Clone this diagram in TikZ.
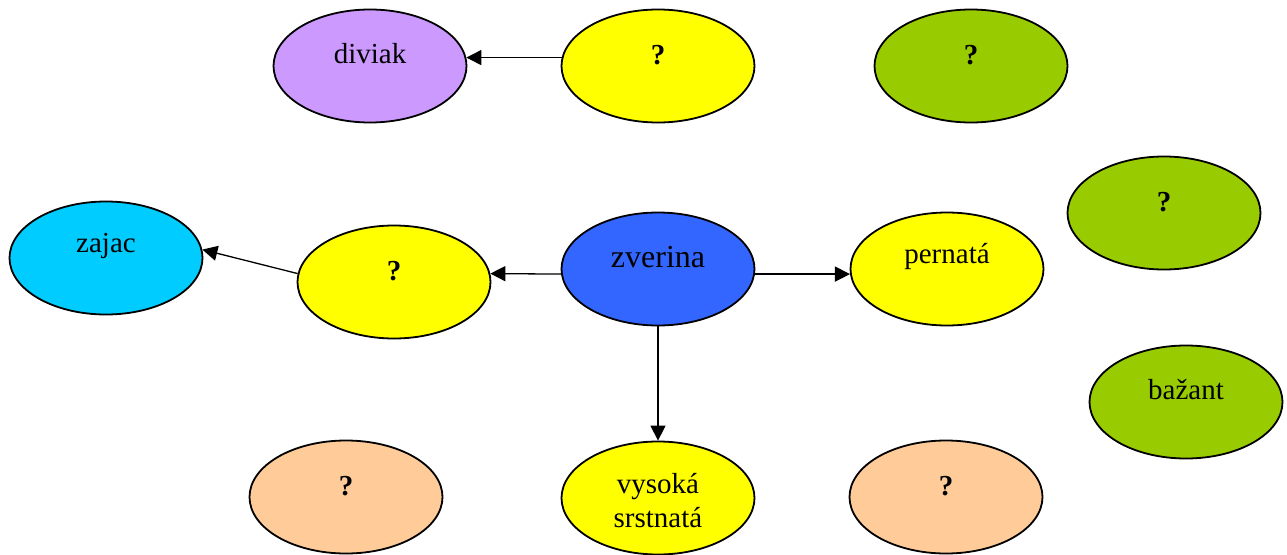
\documentclass[tikz,border=0pt]{standalone}
\usepackage{fontspec}
\setmainfont{Liberation Serif}
\usetikzlibrary{shapes.geometric,arrows.meta}
\definecolor{cviolet}{HTML}{CC99FF}
\definecolor{cyellow}{HTML}{FFFF00}
\definecolor{cgreen}{HTML}{99CC00}
\definecolor{ccyan}{HTML}{00CCFF}
\definecolor{cblue}{HTML}{3366FF}
\definecolor{corange}{HTML}{FFCC99}
\begin{document}
\begin{tikzpicture}[x=1pt,y=-1pt,
  bubble/.style={ellipse, draw=black, line width=1.8pt, minimum width=193pt, minimum height=113pt, inner sep=0pt},
  txt/.style={font=\fontsize{29}{34}\selectfont, align=center, inner sep=0pt},
  lab/.style={label={[txt,yshift=12pt]center:#1}},
  qlab/.style={label={[txt,font=\fontsize{29}{34}\selectfont\bfseries,yshift=11pt]center:?}},
  arr/.style={-{Triangle[length=15pt,width=15pt]}, line width=1.3pt}]
\useasboundingbox (0,0) rectangle (1287,554);
\node[bubble, fill=cviolet, lab=diviak] (diviak) at (370,66) {};
\node[bubble, fill=cyellow, qlab] (q1) at (658,66) {};
\node[bubble, fill=cgreen, qlab] (g1) at (971,66) {};
\node[bubble, fill=cgreen, qlab] (g2) at (1164,213) {};
\node[bubble, fill=ccyan, lab=zajac] (zajac) at (106,258) {};
\node[bubble, fill=cyellow, qlab] (q2) at (394,282) {};
\node[bubble, fill=cblue, label={[txt, font=\fontsize{32}{36}\selectfont, yshift=12pt]center:zverina}] (zverina) at (658,269) {};
\node[bubble, fill=cyellow, lab=pernatá] (pernata) at (947,269) {};
\node[bubble, fill=cgreen, lab=bažant] (bazant) at (1186,402) {};
\node[bubble, fill=corange, qlab] (o1) at (346,497) {};
\node[bubble, fill=cyellow, label={[txt, yshift=-3pt]center:{vysoká\\srstnatá}}] (vysoka) at (658,498) {};
\node[bubble, fill=corange, qlab] (o2) at (946,497) {};
\draw[arr] (q1.175) -- (diviak.5);
\draw[arr] (zverina.183) -- (q2.5);
\draw[arr] (q2.175) -- (zajac.5);
\draw[arr] (zverina.-3) -- (pernata.183);
\draw[arr] (zverina.south) -- (vysoka.north);
\end{tikzpicture}
\end{document}
